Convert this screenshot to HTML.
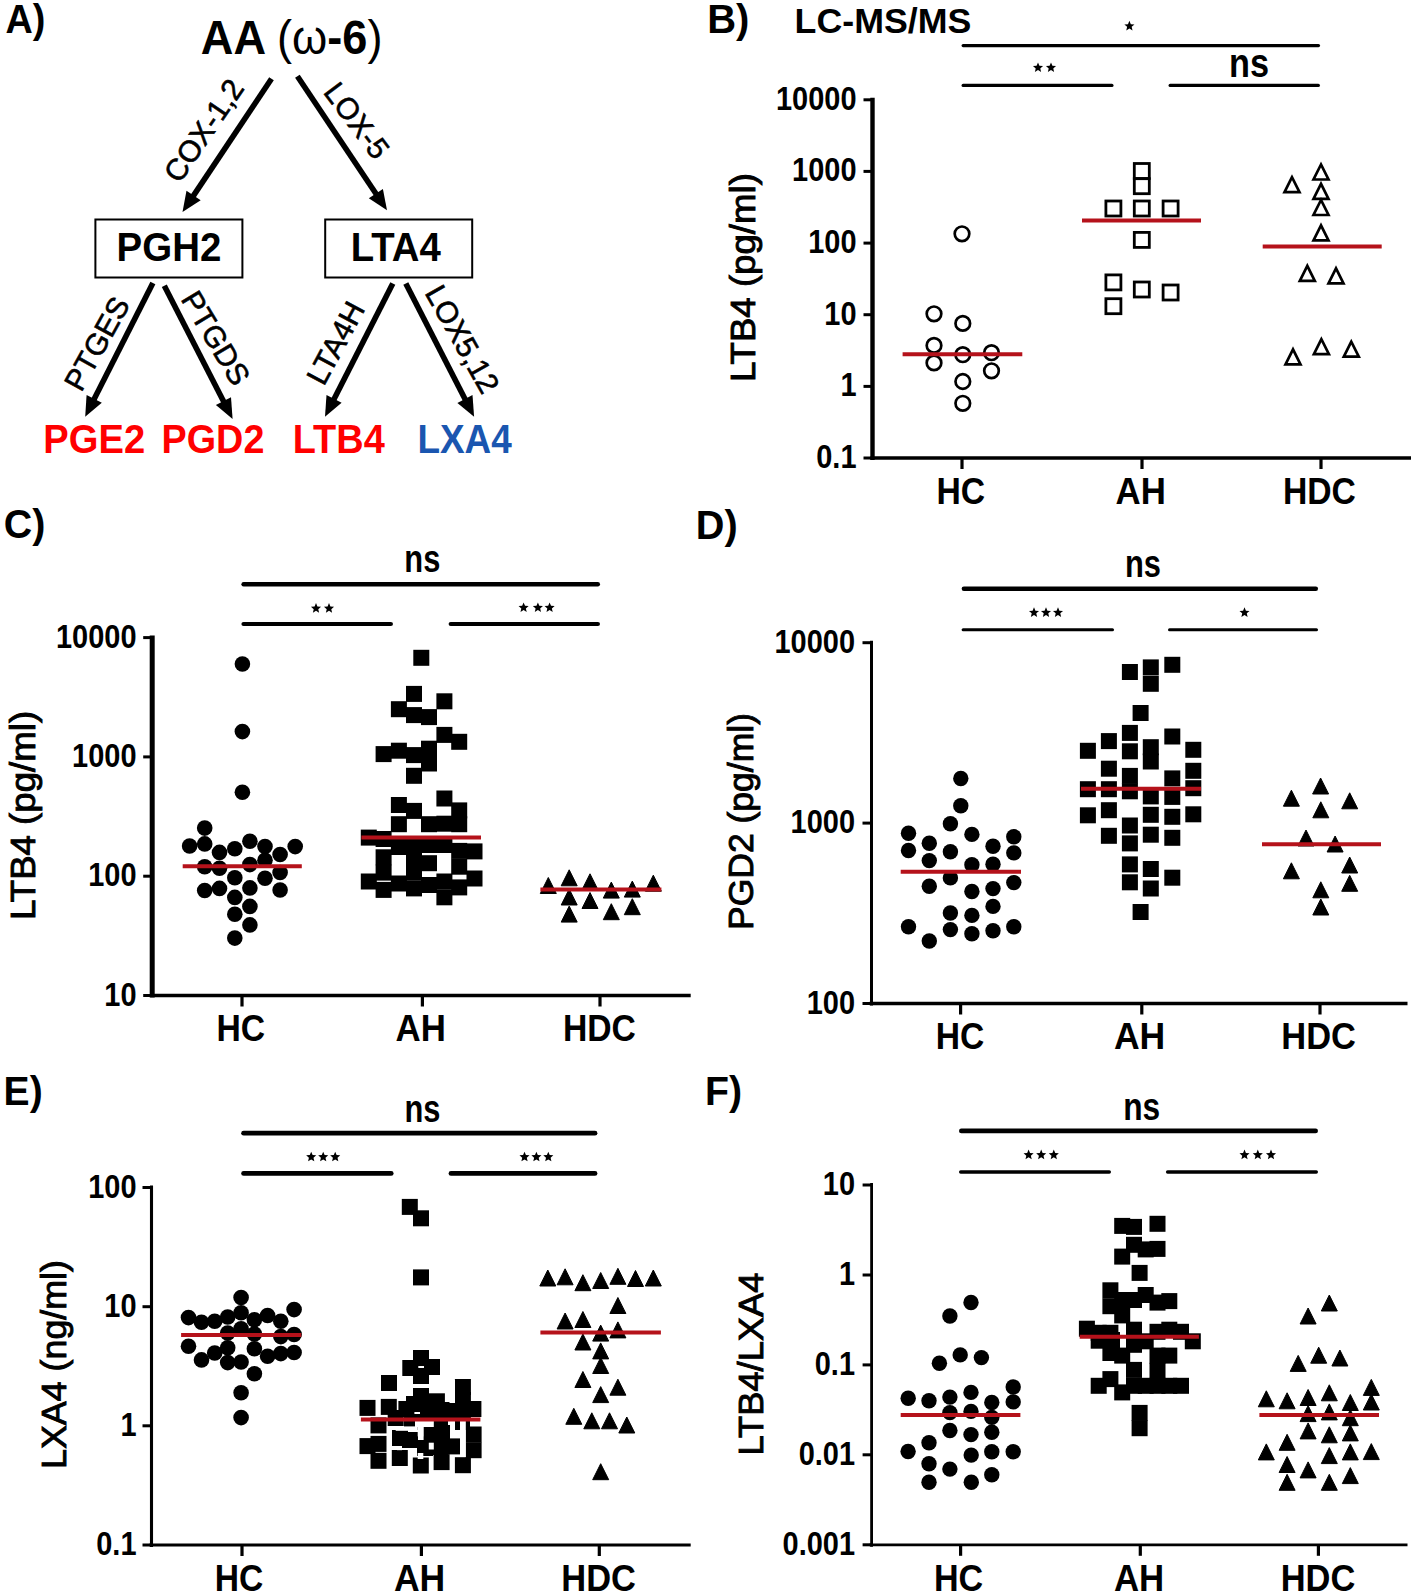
<!DOCTYPE html>
<html><head><meta charset="utf-8"><style>html,body{margin:0;padding:0;background:#fff;overflow:hidden}svg{display:block}</style></head>
<body><svg width="1417" height="1596" viewBox="0 0 1417 1596" font-family='"Liberation Sans", sans-serif'><rect width="100%" height="100%" fill="#fff"/><text transform="translate(5.56 32.50) scale(0.9205 1)" x="0" y="0" font-size="41.01" font-weight="bold" fill="#000">A)</text>
<text transform="translate(200.8 53.7) scale(0.957 1)" x="0" y="0" font-size="47.2" font-weight="bold" fill="#000">AA <tspan font-weight="normal">(ω</tspan>-6<tspan font-weight="normal">)</tspan></text>
<line x1="271.5" y1="78.8" x2="192.5" y2="197.1" stroke="#000" stroke-width="5.6" stroke-linecap="butt"/>
<polygon points="182.5,212.1 186.5,190.7 200.7,200.2" fill="#000"/>
<line x1="297.4" y1="76.3" x2="377.0" y2="195.2" stroke="#000" stroke-width="5.6" stroke-linecap="butt"/>
<polygon points="387.0,210.2 368.8,198.3 382.9,188.9" fill="#000"/>
<text transform="translate(203.4 130.2) rotate(-55.7)" x="0" y="10.8" font-size="30" text-anchor="middle" font-weight="normal" fill="#000" stroke="#000" stroke-width="0.6">COX-1,2</text>
<text transform="translate(357.2 120.3) rotate(53)" x="0" y="10.8" font-size="30" text-anchor="middle" font-weight="normal" fill="#000" stroke="#000" stroke-width="0.6">LOX-5</text>
<rect x="95.4" y="219.5" width="147" height="58" fill="none" stroke="#000" stroke-width="2"/>
<rect x="325.2" y="219.5" width="147" height="58" fill="none" stroke="#000" stroke-width="2"/>
<text transform="translate(116.62 260.80) scale(0.9409 1)" x="0" y="0" font-size="40.87" font-weight="bold" fill="#000">PGH2</text>
<text transform="translate(350.73 260.80) scale(0.9356 1)" x="0" y="0" font-size="40.99" font-weight="bold" fill="#000">LTA4</text>
<line x1="152.9" y1="283.0" x2="93.3" y2="400.7" stroke="#000" stroke-width="5.6" stroke-linecap="butt"/>
<polygon points="85.2,416.8 86.6,395.1 101.8,402.8" fill="#000"/>
<line x1="164.3" y1="285.8" x2="224.4" y2="403.0" stroke="#000" stroke-width="5.6" stroke-linecap="butt"/>
<polygon points="232.6,419.0 215.9,405.1 231.0,397.3" fill="#000"/>
<line x1="392.8" y1="283.5" x2="333.2" y2="400.8" stroke="#000" stroke-width="5.6" stroke-linecap="butt"/>
<polygon points="325.0,416.8 326.5,395.1 341.6,402.8" fill="#000"/>
<line x1="405.8" y1="283.5" x2="465.9" y2="400.8" stroke="#000" stroke-width="5.6" stroke-linecap="butt"/>
<polygon points="474.1,416.8 457.4,402.9 472.5,395.1" fill="#000"/>
<text transform="translate(96.5 343.4) rotate(-61)" x="0" y="10.8" font-size="30" text-anchor="middle" font-weight="normal" fill="#000" stroke="#000" stroke-width="0.6">PTGES</text>
<text transform="translate(216.2 337.8) rotate(59)" x="0" y="10.8" font-size="30" text-anchor="middle" font-weight="normal" fill="#000" stroke="#000" stroke-width="0.6">PTGDS</text>
<text transform="translate(335.2 342.8) rotate(-61.8)" x="0" y="10.8" font-size="30" text-anchor="middle" font-weight="normal" fill="#000" stroke="#000" stroke-width="0.6">LTA4H</text>
<text transform="translate(462.8 338.9) rotate(60.5)" x="0" y="10.8" font-size="30" text-anchor="middle" font-weight="normal" fill="#000" stroke="#000" stroke-width="0.6">LOX5,12</text>
<text transform="translate(43.34 452.80) scale(0.9435 1)" x="0" y="0" font-size="40.43" font-weight="bold" fill="#ff0000">PGE2</text>
<text transform="translate(161.57 452.80) scale(0.9340 1)" x="0" y="0" font-size="40.43" font-weight="bold" fill="#ff0000">PGD2</text>
<text transform="translate(292.76 452.80) scale(0.9355 1)" x="0" y="0" font-size="40.55" font-weight="bold" fill="#ff0000">LTB4</text>
<text transform="translate(417.43 452.80) scale(0.9103 1)" x="0" y="0" font-size="40.55" font-weight="bold" fill="#1a56b0">LXA4</text>
<line x1="872.5" y1="97.8" x2="872.5" y2="460.0" stroke="#000" stroke-width="4.4" stroke-linecap="butt"/>
<line x1="870.5" y1="458.0" x2="1411.0" y2="458.0" stroke="#000" stroke-width="3.4" stroke-linecap="butt"/>
<line x1="863.5" y1="99.8" x2="872.5" y2="99.8" stroke="#000" stroke-width="3" stroke-linecap="butt"/>
<text x="856.5" y="109.8" font-size="34" text-anchor="end" font-weight="bold" fill="#000" textLength="80.5" lengthAdjust="spacingAndGlyphs">10000</text>
<line x1="863.5" y1="171.4" x2="872.5" y2="171.4" stroke="#000" stroke-width="3" stroke-linecap="butt"/>
<text x="856.5" y="181.4" font-size="34" text-anchor="end" font-weight="bold" fill="#000" textLength="64.4" lengthAdjust="spacingAndGlyphs">1000</text>
<line x1="863.5" y1="243.1" x2="872.5" y2="243.1" stroke="#000" stroke-width="3" stroke-linecap="butt"/>
<text x="856.5" y="253.1" font-size="34" text-anchor="end" font-weight="bold" fill="#000" textLength="48.300000000000004" lengthAdjust="spacingAndGlyphs">100</text>
<line x1="863.5" y1="314.7" x2="872.5" y2="314.7" stroke="#000" stroke-width="3" stroke-linecap="butt"/>
<text x="856.5" y="324.7" font-size="34" text-anchor="end" font-weight="bold" fill="#000" textLength="32.2" lengthAdjust="spacingAndGlyphs">10</text>
<line x1="863.5" y1="386.4" x2="872.5" y2="386.4" stroke="#000" stroke-width="3" stroke-linecap="butt"/>
<text x="856.5" y="396.4" font-size="34" text-anchor="end" font-weight="bold" fill="#000" textLength="16.1" lengthAdjust="spacingAndGlyphs">1</text>
<line x1="863.5" y1="458.0" x2="872.5" y2="458.0" stroke="#000" stroke-width="3" stroke-linecap="butt"/>
<text x="856.5" y="468.0" font-size="34" text-anchor="end" font-weight="bold" fill="#000" textLength="40.25" lengthAdjust="spacingAndGlyphs">0.1</text>
<line x1="962.0" y1="458.0" x2="962.0" y2="469.0" stroke="#000" stroke-width="3.2" stroke-linecap="butt"/>
<text transform="translate(936.54 504.10) scale(0.9109 1)" x="0" y="0" font-size="37.00" font-weight="bold" fill="#000">HC</text>
<line x1="1142.0" y1="458.0" x2="1142.0" y2="469.0" stroke="#000" stroke-width="3.2" stroke-linecap="butt"/>
<text transform="translate(1115.53 504.10) scale(0.9415 1)" x="0" y="0" font-size="37.00" font-weight="bold" fill="#000">AH</text>
<line x1="1321.0" y1="458.0" x2="1321.0" y2="469.0" stroke="#000" stroke-width="3.2" stroke-linecap="butt"/>
<text transform="translate(1282.94 504.10) scale(0.9105 1)" x="0" y="0" font-size="37.00" font-weight="bold" fill="#000">HDC</text>
<text x="755.3" y="277.6" font-size="35" text-anchor="middle" font-weight="normal" fill="#000" stroke="#000" stroke-width="0.9" textLength="209" lengthAdjust="spacingAndGlyphs" transform="rotate(-90 755.3 277.6)">LTB4 (pg/ml)</text>
<text transform="translate(707.22 32.70) scale(0.9924 1)" x="0" y="0" font-size="40.29" font-weight="bold" fill="#000">B)</text>
<line x1="963.1" y1="45.6" x2="1318.5" y2="45.6" stroke="#000" stroke-width="3.1" stroke-linecap="round"/>
<line x1="963.2" y1="85.4" x2="1111.9" y2="85.4" stroke="#000" stroke-width="3.3" stroke-linecap="round"/>
<line x1="1170.2" y1="85.4" x2="1318.3" y2="85.4" stroke="#000" stroke-width="3.3" stroke-linecap="round"/>
<polygon points="1129.40,20.80 1130.81,24.16 1134.44,24.46 1131.68,26.84 1132.52,30.39 1129.40,28.50 1126.28,30.39 1127.12,26.84 1124.36,24.46 1127.99,24.16" fill="#000"/>
<polygon points="1038.00,62.40 1039.41,65.76 1043.04,66.06 1040.28,68.44 1041.12,71.99 1038.00,70.10 1034.88,71.99 1035.72,68.44 1032.96,66.06 1036.59,65.76" fill="#000"/>
<polygon points="1051.00,62.40 1052.41,65.76 1056.04,66.06 1053.28,68.44 1054.12,71.99 1051.00,70.10 1047.88,71.99 1048.72,68.44 1045.96,66.06 1049.59,65.76" fill="#000"/>
<text x="1249.0" y="77.0" font-size="40" text-anchor="middle" font-weight="bold" fill="#000" textLength="40" lengthAdjust="spacingAndGlyphs">ns</text>
<text transform="translate(794.60 32.80) scale(1.0271 1)" x="0" y="0" font-size="34.81" font-weight="bold" fill="#000">LC-MS/MS</text>
<circle cx="962.0" cy="233.8" r="7.3" fill="none" stroke="#000" stroke-width="2.7"/>
<circle cx="934.0" cy="313.8" r="7.3" fill="none" stroke="#000" stroke-width="2.7"/>
<circle cx="962.8" cy="323.4" r="7.3" fill="none" stroke="#000" stroke-width="2.7"/>
<circle cx="934.0" cy="345.4" r="7.3" fill="none" stroke="#000" stroke-width="2.7"/>
<circle cx="962.8" cy="354.7" r="7.3" fill="none" stroke="#000" stroke-width="2.7"/>
<circle cx="991.5" cy="352.7" r="7.3" fill="none" stroke="#000" stroke-width="2.7"/>
<circle cx="934.0" cy="362.9" r="7.3" fill="none" stroke="#000" stroke-width="2.7"/>
<circle cx="991.5" cy="370.8" r="7.3" fill="none" stroke="#000" stroke-width="2.7"/>
<circle cx="962.8" cy="381.5" r="7.3" fill="none" stroke="#000" stroke-width="2.7"/>
<circle cx="962.8" cy="403.3" r="7.3" fill="none" stroke="#000" stroke-width="2.7"/>
<rect x="1134.3" y="163.5" width="15" height="15" fill="none" stroke="#000" stroke-width="2.8"/>
<rect x="1134.3" y="178.7" width="15" height="15" fill="none" stroke="#000" stroke-width="2.8"/>
<rect x="1105.9" y="201.0" width="15" height="15" fill="none" stroke="#000" stroke-width="2.8"/>
<rect x="1134.3" y="201.0" width="15" height="15" fill="none" stroke="#000" stroke-width="2.8"/>
<rect x="1163.1" y="201.0" width="15" height="15" fill="none" stroke="#000" stroke-width="2.8"/>
<rect x="1134.3" y="232.4" width="15" height="15" fill="none" stroke="#000" stroke-width="2.8"/>
<rect x="1105.9" y="274.9" width="15" height="15" fill="none" stroke="#000" stroke-width="2.8"/>
<rect x="1134.3" y="282.0" width="15" height="15" fill="none" stroke="#000" stroke-width="2.8"/>
<rect x="1163.1" y="285.0" width="15" height="15" fill="none" stroke="#000" stroke-width="2.8"/>
<rect x="1105.9" y="298.7" width="15" height="15" fill="none" stroke="#000" stroke-width="2.8"/>
<polygon points="1321.0,164.5 1313.5,179.5 1328.5,179.5" fill="none" stroke="#000" stroke-width="2.7" stroke-linejoin="miter"/>
<polygon points="1292.0,177.2 1284.5,192.2 1299.5,192.2" fill="none" stroke="#000" stroke-width="2.7" stroke-linejoin="miter"/>
<polygon points="1321.0,183.8 1313.5,198.8 1328.5,198.8" fill="none" stroke="#000" stroke-width="2.7" stroke-linejoin="miter"/>
<polygon points="1321.0,200.0 1313.5,215.0 1328.5,215.0" fill="none" stroke="#000" stroke-width="2.7" stroke-linejoin="miter"/>
<polygon points="1321.0,225.3 1313.5,240.3 1328.5,240.3" fill="none" stroke="#000" stroke-width="2.7" stroke-linejoin="miter"/>
<polygon points="1307.3,265.8 1299.8,280.8 1314.8,280.8" fill="none" stroke="#000" stroke-width="2.7" stroke-linejoin="miter"/>
<polygon points="1336.0,268.3 1328.5,283.3 1343.5,283.3" fill="none" stroke="#000" stroke-width="2.7" stroke-linejoin="miter"/>
<polygon points="1293.0,349.3 1285.5,364.3 1300.5,364.3" fill="none" stroke="#000" stroke-width="2.7" stroke-linejoin="miter"/>
<polygon points="1321.4,339.2 1313.9,354.2 1328.9,354.2" fill="none" stroke="#000" stroke-width="2.7" stroke-linejoin="miter"/>
<polygon points="1351.3,341.7 1343.8,356.7 1358.8,356.7" fill="none" stroke="#000" stroke-width="2.7" stroke-linejoin="miter"/>
<line x1="152.2" y1="635.6" x2="152.2" y2="997.5" stroke="#000" stroke-width="5" stroke-linecap="butt"/>
<line x1="150.2" y1="995.5" x2="690.7" y2="995.5" stroke="#000" stroke-width="3.4" stroke-linecap="butt"/>
<line x1="143.2" y1="637.6" x2="152.2" y2="637.6" stroke="#000" stroke-width="3" stroke-linecap="butt"/>
<text x="136.5" y="647.6" font-size="34" text-anchor="end" font-weight="bold" fill="#000" textLength="80.5" lengthAdjust="spacingAndGlyphs">10000</text>
<line x1="143.2" y1="756.9" x2="152.2" y2="756.9" stroke="#000" stroke-width="3" stroke-linecap="butt"/>
<text x="136.5" y="766.9" font-size="34" text-anchor="end" font-weight="bold" fill="#000" textLength="64.4" lengthAdjust="spacingAndGlyphs">1000</text>
<line x1="143.2" y1="876.2" x2="152.2" y2="876.2" stroke="#000" stroke-width="3" stroke-linecap="butt"/>
<text x="136.5" y="886.2" font-size="34" text-anchor="end" font-weight="bold" fill="#000" textLength="48.300000000000004" lengthAdjust="spacingAndGlyphs">100</text>
<line x1="143.2" y1="995.5" x2="152.2" y2="995.5" stroke="#000" stroke-width="3" stroke-linecap="butt"/>
<text x="136.5" y="1005.5" font-size="34" text-anchor="end" font-weight="bold" fill="#000" textLength="32.2" lengthAdjust="spacingAndGlyphs">10</text>
<line x1="242.0" y1="995.5" x2="242.0" y2="1006.5" stroke="#000" stroke-width="3.2" stroke-linecap="butt"/>
<text transform="translate(216.54 1041.40) scale(0.9109 1)" x="0" y="0" font-size="37.00" font-weight="bold" fill="#000">HC</text>
<line x1="422.4" y1="995.5" x2="422.4" y2="1006.5" stroke="#000" stroke-width="3.2" stroke-linecap="butt"/>
<text transform="translate(395.53 1041.40) scale(0.9415 1)" x="0" y="0" font-size="37.00" font-weight="bold" fill="#000">AH</text>
<line x1="600.0" y1="995.5" x2="600.0" y2="1006.5" stroke="#000" stroke-width="3.2" stroke-linecap="butt"/>
<text transform="translate(562.94 1041.40) scale(0.9105 1)" x="0" y="0" font-size="37.00" font-weight="bold" fill="#000">HDC</text>
<text x="35.2" y="815.4" font-size="35" text-anchor="middle" font-weight="normal" fill="#000" stroke="#000" stroke-width="0.9" textLength="209" lengthAdjust="spacingAndGlyphs" transform="rotate(-90 35.2 815.4)">LTB4 (pg/ml)</text>
<text transform="translate(3.78 537.50) scale(0.9785 1)" x="0" y="0" font-size="40.29" font-weight="bold" fill="#000">C)</text>
<line x1="243.6" y1="584.3" x2="597.8" y2="584.3" stroke="#000" stroke-width="4.4" stroke-linecap="round"/>
<line x1="243.5" y1="624.0" x2="390.9" y2="624.0" stroke="#000" stroke-width="4.2" stroke-linecap="round"/>
<line x1="450.7" y1="624.0" x2="597.9" y2="624.0" stroke="#000" stroke-width="4.2" stroke-linecap="round"/>
<polygon points="316.00,603.10 317.41,606.46 321.04,606.76 318.28,609.14 319.12,612.69 316.00,610.80 312.88,612.69 313.72,609.14 310.96,606.76 314.59,606.46" fill="#000"/>
<polygon points="329.00,603.10 330.41,606.46 334.04,606.76 331.28,609.14 332.12,612.69 329.00,610.80 325.88,612.69 326.72,609.14 323.96,606.76 327.59,606.46" fill="#000"/>
<polygon points="523.60,602.40 525.01,605.76 528.64,606.06 525.88,608.44 526.72,611.99 523.60,610.10 520.48,611.99 521.32,608.44 518.56,606.06 522.19,605.76" fill="#000"/>
<polygon points="537.90,602.40 539.31,605.76 542.94,606.06 540.18,608.44 541.02,611.99 537.90,610.10 534.78,611.99 535.62,608.44 532.86,606.06 536.49,605.76" fill="#000"/>
<polygon points="549.60,602.40 551.01,605.76 554.64,606.06 551.88,608.44 552.72,611.99 549.60,610.10 546.48,611.99 547.32,608.44 544.56,606.06 548.19,605.76" fill="#000"/>
<text x="422.3" y="572.2" font-size="38" text-anchor="middle" font-weight="bold" fill="#000" textLength="36" lengthAdjust="spacingAndGlyphs">ns</text>
<line x1="871.5" y1="640.7" x2="871.5" y2="1005.5" stroke="#000" stroke-width="3" stroke-linecap="butt"/>
<line x1="869.5" y1="1003.5" x2="1407.5" y2="1003.5" stroke="#000" stroke-width="3.4" stroke-linecap="butt"/>
<line x1="862.5" y1="642.7" x2="871.5" y2="642.7" stroke="#000" stroke-width="3" stroke-linecap="butt"/>
<text x="855.0" y="652.7" font-size="34" text-anchor="end" font-weight="bold" fill="#000" textLength="80.5" lengthAdjust="spacingAndGlyphs">10000</text>
<line x1="862.5" y1="823.1" x2="871.5" y2="823.1" stroke="#000" stroke-width="3" stroke-linecap="butt"/>
<text x="855.0" y="833.1" font-size="34" text-anchor="end" font-weight="bold" fill="#000" textLength="64.4" lengthAdjust="spacingAndGlyphs">1000</text>
<line x1="862.5" y1="1003.5" x2="871.5" y2="1003.5" stroke="#000" stroke-width="3" stroke-linecap="butt"/>
<text x="855.0" y="1013.5" font-size="34" text-anchor="end" font-weight="bold" fill="#000" textLength="48.300000000000004" lengthAdjust="spacingAndGlyphs">100</text>
<line x1="960.6" y1="1003.5" x2="960.6" y2="1014.5" stroke="#000" stroke-width="3.2" stroke-linecap="butt"/>
<text transform="translate(935.65 1049.10) scale(0.9089 1)" x="0" y="0" font-size="37.00" font-weight="bold" fill="#000">HC</text>
<line x1="1141.8" y1="1003.5" x2="1141.8" y2="1014.5" stroke="#000" stroke-width="3.2" stroke-linecap="butt"/>
<text transform="translate(1113.91 1049.10) scale(0.9615 1)" x="0" y="0" font-size="37.00" font-weight="bold" fill="#000">AH</text>
<line x1="1320.0" y1="1003.5" x2="1320.0" y2="1014.5" stroke="#000" stroke-width="3.2" stroke-linecap="butt"/>
<text transform="translate(1281.29 1049.10) scale(0.9313 1)" x="0" y="0" font-size="37.00" font-weight="bold" fill="#000">HDC</text>
<text x="753.4" y="821.5" font-size="35" text-anchor="middle" font-weight="normal" fill="#000" stroke="#000" stroke-width="0.9" textLength="217" lengthAdjust="spacingAndGlyphs" transform="rotate(-90 753.4 821.5)">PGD2 (pg/ml)</text>
<text transform="translate(695.84 539.40) scale(0.9844 1)" x="0" y="0" font-size="40.29" font-weight="bold" fill="#000">D)</text>
<line x1="963.9" y1="588.7" x2="1315.8" y2="588.7" stroke="#000" stroke-width="4.5" stroke-linecap="round"/>
<line x1="963.1" y1="629.8" x2="1112.5" y2="629.8" stroke="#000" stroke-width="3" stroke-linecap="round"/>
<line x1="1169.5" y1="629.8" x2="1316.5" y2="629.8" stroke="#000" stroke-width="3" stroke-linecap="round"/>
<polygon points="1034.00,607.30 1035.41,610.66 1039.04,610.96 1036.28,613.34 1037.12,616.89 1034.00,615.00 1030.88,616.89 1031.72,613.34 1028.96,610.96 1032.59,610.66" fill="#000"/>
<polygon points="1046.00,607.30 1047.41,610.66 1051.04,610.96 1048.28,613.34 1049.12,616.89 1046.00,615.00 1042.88,616.89 1043.72,613.34 1040.96,610.96 1044.59,610.66" fill="#000"/>
<polygon points="1058.00,607.30 1059.41,610.66 1063.04,610.96 1060.28,613.34 1061.12,616.89 1058.00,615.00 1054.88,616.89 1055.72,613.34 1052.96,610.96 1056.59,610.66" fill="#000"/>
<polygon points="1244.50,607.30 1245.91,610.66 1249.54,610.96 1246.78,613.34 1247.62,616.89 1244.50,615.00 1241.38,616.89 1242.22,613.34 1239.46,610.96 1243.09,610.66" fill="#000"/>
<text x="1143.0" y="577.2" font-size="38" text-anchor="middle" font-weight="bold" fill="#000" textLength="36" lengthAdjust="spacingAndGlyphs">ns</text>
<line x1="151.5" y1="1185.5" x2="151.5" y2="1547.0" stroke="#000" stroke-width="3.1" stroke-linecap="butt"/>
<line x1="149.5" y1="1545.0" x2="690.7" y2="1545.0" stroke="#000" stroke-width="3.1" stroke-linecap="butt"/>
<line x1="142.5" y1="1187.5" x2="151.5" y2="1187.5" stroke="#000" stroke-width="3" stroke-linecap="butt"/>
<text x="136.5" y="1197.5" font-size="34" text-anchor="end" font-weight="bold" fill="#000" textLength="48.300000000000004" lengthAdjust="spacingAndGlyphs">100</text>
<line x1="142.5" y1="1306.7" x2="151.5" y2="1306.7" stroke="#000" stroke-width="3" stroke-linecap="butt"/>
<text x="136.5" y="1316.7" font-size="34" text-anchor="end" font-weight="bold" fill="#000" textLength="32.2" lengthAdjust="spacingAndGlyphs">10</text>
<line x1="142.5" y1="1425.8" x2="151.5" y2="1425.8" stroke="#000" stroke-width="3" stroke-linecap="butt"/>
<text x="136.5" y="1435.8" font-size="34" text-anchor="end" font-weight="bold" fill="#000" textLength="16.1" lengthAdjust="spacingAndGlyphs">1</text>
<line x1="142.5" y1="1545.0" x2="151.5" y2="1545.0" stroke="#000" stroke-width="3" stroke-linecap="butt"/>
<text x="136.5" y="1555.0" font-size="34" text-anchor="end" font-weight="bold" fill="#000" textLength="40.25" lengthAdjust="spacingAndGlyphs">0.1</text>
<line x1="242.0" y1="1545.0" x2="242.0" y2="1556.0" stroke="#000" stroke-width="3.2" stroke-linecap="butt"/>
<text transform="translate(214.65 1590.70) scale(0.9089 1)" x="0" y="0" font-size="37.00" font-weight="bold" fill="#000">HC</text>
<line x1="421.4" y1="1545.0" x2="421.4" y2="1556.0" stroke="#000" stroke-width="3.2" stroke-linecap="butt"/>
<text transform="translate(393.91 1590.70) scale(0.9615 1)" x="0" y="0" font-size="37.00" font-weight="bold" fill="#000">AH</text>
<line x1="599.3" y1="1545.0" x2="599.3" y2="1556.0" stroke="#000" stroke-width="3.2" stroke-linecap="butt"/>
<text transform="translate(561.29 1590.70) scale(0.9313 1)" x="0" y="0" font-size="37.00" font-weight="bold" fill="#000">HDC</text>
<text x="66" y="1364.5" font-size="35" text-anchor="middle" font-weight="normal" fill="#000" stroke="#000" stroke-width="0.9" textLength="209" lengthAdjust="spacingAndGlyphs" transform="rotate(-90 66 1364.5)">LXA4 (ng/ml)</text>
<text transform="translate(3.58 1105.00) scale(0.9699 1)" x="0" y="0" font-size="40.29" font-weight="bold" fill="#000">E)</text>
<line x1="243.6" y1="1133.2" x2="595.0" y2="1133.2" stroke="#000" stroke-width="4.8" stroke-linecap="round"/>
<line x1="243.6" y1="1173.4" x2="391.2" y2="1173.4" stroke="#000" stroke-width="4.8" stroke-linecap="round"/>
<line x1="451.0" y1="1173.4" x2="595.0" y2="1173.4" stroke="#000" stroke-width="4.8" stroke-linecap="round"/>
<polygon points="311.20,1151.70 312.61,1155.06 316.24,1155.36 313.48,1157.74 314.32,1161.29 311.20,1159.40 308.08,1161.29 308.92,1157.74 306.16,1155.36 309.79,1155.06" fill="#000"/>
<polygon points="323.20,1151.70 324.61,1155.06 328.24,1155.36 325.48,1157.74 326.32,1161.29 323.20,1159.40 320.08,1161.29 320.92,1157.74 318.16,1155.36 321.79,1155.06" fill="#000"/>
<polygon points="335.20,1151.70 336.61,1155.06 340.24,1155.36 337.48,1157.74 338.32,1161.29 335.20,1159.40 332.08,1161.29 332.92,1157.74 330.16,1155.36 333.79,1155.06" fill="#000"/>
<polygon points="524.50,1151.70 525.91,1155.06 529.54,1155.36 526.78,1157.74 527.62,1161.29 524.50,1159.40 521.38,1161.29 522.22,1157.74 519.46,1155.36 523.09,1155.06" fill="#000"/>
<polygon points="536.40,1151.70 537.81,1155.06 541.44,1155.36 538.68,1157.74 539.52,1161.29 536.40,1159.40 533.28,1161.29 534.12,1157.74 531.36,1155.36 534.99,1155.06" fill="#000"/>
<polygon points="548.30,1151.70 549.71,1155.06 553.34,1155.36 550.58,1157.74 551.42,1161.29 548.30,1159.40 545.18,1161.29 546.02,1157.74 543.26,1155.36 546.89,1155.06" fill="#000"/>
<text x="422.4" y="1122.2" font-size="38" text-anchor="middle" font-weight="bold" fill="#000" textLength="36" lengthAdjust="spacingAndGlyphs">ns</text>
<line x1="871.6" y1="1183.0" x2="871.6" y2="1546.8" stroke="#000" stroke-width="2.8" stroke-linecap="butt"/>
<line x1="869.6" y1="1544.8" x2="1407.5" y2="1544.8" stroke="#000" stroke-width="2.8" stroke-linecap="butt"/>
<line x1="862.6" y1="1185.0" x2="871.6" y2="1185.0" stroke="#000" stroke-width="3" stroke-linecap="butt"/>
<text x="855.0" y="1195.0" font-size="34" text-anchor="end" font-weight="bold" fill="#000" textLength="32.2" lengthAdjust="spacingAndGlyphs">10</text>
<line x1="862.6" y1="1275.0" x2="871.6" y2="1275.0" stroke="#000" stroke-width="3" stroke-linecap="butt"/>
<text x="855.0" y="1285.0" font-size="34" text-anchor="end" font-weight="bold" fill="#000" textLength="16.1" lengthAdjust="spacingAndGlyphs">1</text>
<line x1="862.6" y1="1364.9" x2="871.6" y2="1364.9" stroke="#000" stroke-width="3" stroke-linecap="butt"/>
<text x="855.0" y="1374.9" font-size="34" text-anchor="end" font-weight="bold" fill="#000" textLength="40.25" lengthAdjust="spacingAndGlyphs">0.1</text>
<line x1="862.6" y1="1454.8" x2="871.6" y2="1454.8" stroke="#000" stroke-width="3" stroke-linecap="butt"/>
<text x="855.0" y="1464.8" font-size="34" text-anchor="end" font-weight="bold" fill="#000" textLength="56.35000000000001" lengthAdjust="spacingAndGlyphs">0.01</text>
<line x1="862.6" y1="1544.8" x2="871.6" y2="1544.8" stroke="#000" stroke-width="3" stroke-linecap="butt"/>
<text x="855.0" y="1554.8" font-size="34" text-anchor="end" font-weight="bold" fill="#000" textLength="72.45" lengthAdjust="spacingAndGlyphs">0.001</text>
<line x1="960.6" y1="1544.8" x2="960.6" y2="1555.8" stroke="#000" stroke-width="3.2" stroke-linecap="butt"/>
<text transform="translate(933.91 1590.70) scale(0.9229 1)" x="0" y="0" font-size="37.00" font-weight="bold" fill="#000">HC</text>
<line x1="1140.3" y1="1544.8" x2="1140.3" y2="1555.8" stroke="#000" stroke-width="3.2" stroke-linecap="butt"/>
<text transform="translate(1113.93 1590.70) scale(0.9415 1)" x="0" y="0" font-size="37.00" font-weight="bold" fill="#000">AH</text>
<line x1="1318.4" y1="1544.8" x2="1318.4" y2="1555.8" stroke="#000" stroke-width="3.2" stroke-linecap="butt"/>
<text transform="translate(1280.69 1590.70) scale(0.9313 1)" x="0" y="0" font-size="37.00" font-weight="bold" fill="#000">HDC</text>
<text x="762.5" y="1364" font-size="35" text-anchor="middle" font-weight="normal" fill="#000" stroke="#000" stroke-width="0.9" textLength="183" lengthAdjust="spacingAndGlyphs" transform="rotate(-90 762.5 1364)">LTB4/LXA4</text>
<text transform="translate(705.07 1105.00) scale(0.9755 1)" x="0" y="0" font-size="40.29" font-weight="bold" fill="#000">F)</text>
<line x1="961.4" y1="1130.9" x2="1315.6" y2="1130.9" stroke="#000" stroke-width="4.8" stroke-linecap="round"/>
<line x1="960.7" y1="1172.0" x2="1109.3" y2="1172.0" stroke="#000" stroke-width="3.4" stroke-linecap="round"/>
<line x1="1167.6" y1="1172.0" x2="1316.3" y2="1172.0" stroke="#000" stroke-width="3.4" stroke-linecap="round"/>
<polygon points="1028.60,1149.60 1030.01,1152.96 1033.64,1153.26 1030.88,1155.64 1031.72,1159.19 1028.60,1157.30 1025.48,1159.19 1026.32,1155.64 1023.56,1153.26 1027.19,1152.96" fill="#000"/>
<polygon points="1041.20,1149.60 1042.61,1152.96 1046.24,1153.26 1043.48,1155.64 1044.32,1159.19 1041.20,1157.30 1038.08,1159.19 1038.92,1155.64 1036.16,1153.26 1039.79,1152.96" fill="#000"/>
<polygon points="1053.80,1149.60 1055.21,1152.96 1058.84,1153.26 1056.08,1155.64 1056.92,1159.19 1053.80,1157.30 1050.68,1159.19 1051.52,1155.64 1048.76,1153.26 1052.39,1152.96" fill="#000"/>
<polygon points="1244.50,1149.60 1245.91,1152.96 1249.54,1153.26 1246.78,1155.64 1247.62,1159.19 1244.50,1157.30 1241.38,1159.19 1242.22,1155.64 1239.46,1153.26 1243.09,1152.96" fill="#000"/>
<polygon points="1257.80,1149.60 1259.21,1152.96 1262.84,1153.26 1260.08,1155.64 1260.92,1159.19 1257.80,1157.30 1254.68,1159.19 1255.52,1155.64 1252.76,1153.26 1256.39,1152.96" fill="#000"/>
<polygon points="1271.00,1149.60 1272.41,1152.96 1276.04,1153.26 1273.28,1155.64 1274.12,1159.19 1271.00,1157.30 1267.88,1159.19 1268.72,1155.64 1265.96,1153.26 1269.59,1152.96" fill="#000"/>
<text x="1141.7" y="1119.5" font-size="38" text-anchor="middle" font-weight="bold" fill="#000" textLength="37" lengthAdjust="spacingAndGlyphs">ns</text>
<circle cx="242.4" cy="664.0" r="7.8" fill="#000"/>
<circle cx="242.4" cy="731.6" r="7.8" fill="#000"/>
<circle cx="242.4" cy="792.3" r="7.8" fill="#000"/>
<circle cx="204.7" cy="828.1" r="7.8" fill="#000"/>
<circle cx="189.6" cy="846.0" r="7.8" fill="#000"/>
<circle cx="204.7" cy="843.9" r="7.8" fill="#000"/>
<circle cx="219.5" cy="852.4" r="7.8" fill="#000"/>
<circle cx="234.8" cy="848.7" r="7.8" fill="#000"/>
<circle cx="249.9" cy="841.3" r="7.8" fill="#000"/>
<circle cx="265.0" cy="846.6" r="7.8" fill="#000"/>
<circle cx="280.1" cy="854.5" r="7.8" fill="#000"/>
<circle cx="295.2" cy="846.6" r="7.8" fill="#000"/>
<circle cx="204.7" cy="866.7" r="7.8" fill="#000"/>
<circle cx="219.5" cy="868.3" r="7.8" fill="#000"/>
<circle cx="249.9" cy="864.6" r="7.8" fill="#000"/>
<circle cx="265.0" cy="860.3" r="7.8" fill="#000"/>
<circle cx="280.1" cy="872.5" r="7.8" fill="#000"/>
<circle cx="234.8" cy="877.8" r="7.8" fill="#000"/>
<circle cx="265.0" cy="878.3" r="7.8" fill="#000"/>
<circle cx="204.7" cy="890.5" r="7.8" fill="#000"/>
<circle cx="219.5" cy="888.4" r="7.8" fill="#000"/>
<circle cx="249.9" cy="887.9" r="7.8" fill="#000"/>
<circle cx="280.1" cy="890.0" r="7.8" fill="#000"/>
<circle cx="234.8" cy="897.4" r="7.8" fill="#000"/>
<circle cx="249.9" cy="906.4" r="7.8" fill="#000"/>
<circle cx="234.8" cy="914.3" r="7.8" fill="#000"/>
<circle cx="249.9" cy="924.9" r="7.8" fill="#000"/>
<circle cx="234.8" cy="938.1" r="7.8" fill="#000"/>
<circle cx="960.8" cy="778.5" r="7.7" fill="#000"/>
<circle cx="960.8" cy="805.8" r="7.7" fill="#000"/>
<circle cx="950.4" cy="823.7" r="7.7" fill="#000"/>
<circle cx="908.5" cy="833.2" r="7.7" fill="#000"/>
<circle cx="929.3" cy="843.3" r="7.7" fill="#000"/>
<circle cx="971.9" cy="834.4" r="7.7" fill="#000"/>
<circle cx="1013.8" cy="836.8" r="7.7" fill="#000"/>
<circle cx="908.5" cy="850.5" r="7.7" fill="#000"/>
<circle cx="950.4" cy="851.7" r="7.7" fill="#000"/>
<circle cx="993.0" cy="846.3" r="7.7" fill="#000"/>
<circle cx="1013.8" cy="852.9" r="7.7" fill="#000"/>
<circle cx="929.3" cy="860.6" r="7.7" fill="#000"/>
<circle cx="971.9" cy="864.8" r="7.7" fill="#000"/>
<circle cx="993.0" cy="864.2" r="7.7" fill="#000"/>
<circle cx="950.4" cy="877.9" r="7.7" fill="#000"/>
<circle cx="929.3" cy="886.2" r="7.7" fill="#000"/>
<circle cx="1013.8" cy="882.6" r="7.7" fill="#000"/>
<circle cx="971.9" cy="891.5" r="7.7" fill="#000"/>
<circle cx="993.0" cy="888.6" r="7.7" fill="#000"/>
<circle cx="993.0" cy="906.4" r="7.7" fill="#000"/>
<circle cx="950.4" cy="913.0" r="7.7" fill="#000"/>
<circle cx="971.9" cy="915.4" r="7.7" fill="#000"/>
<circle cx="908.5" cy="926.7" r="7.7" fill="#000"/>
<circle cx="950.4" cy="929.6" r="7.7" fill="#000"/>
<circle cx="971.9" cy="933.8" r="7.7" fill="#000"/>
<circle cx="993.0" cy="930.8" r="7.7" fill="#000"/>
<circle cx="1013.8" cy="926.7" r="7.7" fill="#000"/>
<circle cx="929.3" cy="941.0" r="7.7" fill="#000"/>
<circle cx="241.1" cy="1297.5" r="7.8" fill="#000"/>
<circle cx="188.5" cy="1317.6" r="7.8" fill="#000"/>
<circle cx="201.5" cy="1322.3" r="7.8" fill="#000"/>
<circle cx="214.7" cy="1321.3" r="7.8" fill="#000"/>
<circle cx="227.7" cy="1317.0" r="7.8" fill="#000"/>
<circle cx="241.1" cy="1312.8" r="7.8" fill="#000"/>
<circle cx="254.4" cy="1319.7" r="7.8" fill="#000"/>
<circle cx="267.6" cy="1315.5" r="7.8" fill="#000"/>
<circle cx="280.8" cy="1321.3" r="7.8" fill="#000"/>
<circle cx="294.1" cy="1309.6" r="7.8" fill="#000"/>
<circle cx="227.7" cy="1333.0" r="7.8" fill="#000"/>
<circle cx="241.1" cy="1328.7" r="7.8" fill="#000"/>
<circle cx="254.4" cy="1334.0" r="7.8" fill="#000"/>
<circle cx="280.8" cy="1336.6" r="7.8" fill="#000"/>
<circle cx="294.1" cy="1334.5" r="7.8" fill="#000"/>
<circle cx="188.5" cy="1346.2" r="7.8" fill="#000"/>
<circle cx="214.7" cy="1353.0" r="7.8" fill="#000"/>
<circle cx="227.7" cy="1347.7" r="7.8" fill="#000"/>
<circle cx="254.4" cy="1348.8" r="7.8" fill="#000"/>
<circle cx="267.6" cy="1356.2" r="7.8" fill="#000"/>
<circle cx="280.8" cy="1353.6" r="7.8" fill="#000"/>
<circle cx="294.1" cy="1352.5" r="7.8" fill="#000"/>
<circle cx="201.5" cy="1359.9" r="7.8" fill="#000"/>
<circle cx="227.7" cy="1362.6" r="7.8" fill="#000"/>
<circle cx="241.1" cy="1362.0" r="7.8" fill="#000"/>
<circle cx="254.4" cy="1373.7" r="7.8" fill="#000"/>
<circle cx="241.1" cy="1392.7" r="7.8" fill="#000"/>
<circle cx="241.1" cy="1417.6" r="7.8" fill="#000"/>
<circle cx="971.0" cy="1302.5" r="7.7" fill="#000"/>
<circle cx="949.9" cy="1316.0" r="7.7" fill="#000"/>
<circle cx="939.4" cy="1363.2" r="7.7" fill="#000"/>
<circle cx="960.2" cy="1354.9" r="7.7" fill="#000"/>
<circle cx="981.4" cy="1357.6" r="7.7" fill="#000"/>
<circle cx="908.2" cy="1398.3" r="7.7" fill="#000"/>
<circle cx="929.0" cy="1400.7" r="7.7" fill="#000"/>
<circle cx="949.9" cy="1397.1" r="7.7" fill="#000"/>
<circle cx="971.0" cy="1392.4" r="7.7" fill="#000"/>
<circle cx="991.8" cy="1402.5" r="7.7" fill="#000"/>
<circle cx="1013.2" cy="1387.0" r="7.7" fill="#000"/>
<circle cx="1013.2" cy="1401.9" r="7.7" fill="#000"/>
<circle cx="949.9" cy="1412.6" r="7.7" fill="#000"/>
<circle cx="971.0" cy="1411.4" r="7.7" fill="#000"/>
<circle cx="991.8" cy="1417.4" r="7.7" fill="#000"/>
<circle cx="949.9" cy="1430.5" r="7.7" fill="#000"/>
<circle cx="971.0" cy="1434.6" r="7.7" fill="#000"/>
<circle cx="991.8" cy="1432.3" r="7.7" fill="#000"/>
<circle cx="929.0" cy="1442.8" r="7.7" fill="#000"/>
<circle cx="908.1" cy="1451.5" r="7.7" fill="#000"/>
<circle cx="971.2" cy="1455.1" r="7.7" fill="#000"/>
<circle cx="991.8" cy="1451.7" r="7.7" fill="#000"/>
<circle cx="1013.2" cy="1451.7" r="7.7" fill="#000"/>
<circle cx="929.0" cy="1463.8" r="7.7" fill="#000"/>
<circle cx="949.9" cy="1469.1" r="7.7" fill="#000"/>
<circle cx="991.8" cy="1474.7" r="7.7" fill="#000"/>
<circle cx="929.0" cy="1482.3" r="7.7" fill="#000"/>
<circle cx="971.3" cy="1482.3" r="7.7" fill="#000"/>
<rect x="413.3" y="649.8" width="16" height="16" fill="#000"/>
<rect x="406.0" y="685.9" width="16" height="16" fill="#000"/>
<rect x="436.4" y="693.3" width="16" height="16" fill="#000"/>
<rect x="390.9" y="701.2" width="16" height="16" fill="#000"/>
<rect x="406.0" y="707.1" width="16" height="16" fill="#000"/>
<rect x="421.0" y="709.1" width="16" height="16" fill="#000"/>
<rect x="436.4" y="726.9" width="16" height="16" fill="#000"/>
<rect x="451.2" y="733.8" width="16" height="16" fill="#000"/>
<rect x="375.6" y="746.1" width="16" height="16" fill="#000"/>
<rect x="390.9" y="742.7" width="16" height="16" fill="#000"/>
<rect x="406.0" y="747.1" width="16" height="16" fill="#000"/>
<rect x="421.0" y="740.7" width="16" height="16" fill="#000"/>
<rect x="421.0" y="755.5" width="16" height="16" fill="#000"/>
<rect x="406.0" y="767.8" width="16" height="16" fill="#000"/>
<rect x="436.4" y="790.5" width="16" height="16" fill="#000"/>
<rect x="390.9" y="797.0" width="16" height="16" fill="#000"/>
<rect x="406.0" y="802.9" width="16" height="16" fill="#000"/>
<rect x="451.2" y="802.4" width="16" height="16" fill="#000"/>
<rect x="390.9" y="816.2" width="16" height="16" fill="#000"/>
<rect x="421.0" y="816.2" width="16" height="16" fill="#000"/>
<rect x="436.4" y="815.7" width="16" height="16" fill="#000"/>
<rect x="451.2" y="816.2" width="16" height="16" fill="#000"/>
<rect x="360.8" y="829.6" width="16" height="16" fill="#000"/>
<rect x="375.6" y="831.0" width="16" height="16" fill="#000"/>
<rect x="390.9" y="839.0" width="16" height="16" fill="#000"/>
<rect x="406.0" y="839.0" width="16" height="16" fill="#000"/>
<rect x="421.0" y="837.0" width="16" height="16" fill="#000"/>
<rect x="436.4" y="837.0" width="16" height="16" fill="#000"/>
<rect x="466.5" y="843.4" width="16" height="16" fill="#000"/>
<rect x="451.2" y="842.9" width="16" height="16" fill="#000"/>
<rect x="375.6" y="849.3" width="16" height="16" fill="#000"/>
<rect x="406.0" y="851.8" width="16" height="16" fill="#000"/>
<rect x="421.0" y="855.2" width="16" height="16" fill="#000"/>
<rect x="451.2" y="858.7" width="16" height="16" fill="#000"/>
<rect x="375.6" y="864.6" width="16" height="16" fill="#000"/>
<rect x="406.0" y="864.6" width="16" height="16" fill="#000"/>
<rect x="466.5" y="870.5" width="16" height="16" fill="#000"/>
<rect x="360.8" y="873.5" width="16" height="16" fill="#000"/>
<rect x="390.9" y="875.5" width="16" height="16" fill="#000"/>
<rect x="421.0" y="877.0" width="16" height="16" fill="#000"/>
<rect x="436.4" y="873.5" width="16" height="16" fill="#000"/>
<rect x="451.2" y="879.4" width="16" height="16" fill="#000"/>
<rect x="375.6" y="881.9" width="16" height="16" fill="#000"/>
<rect x="406.0" y="880.4" width="16" height="16" fill="#000"/>
<rect x="436.4" y="889.3" width="16" height="16" fill="#000"/>
<rect x="1121.9" y="664.0" width="16" height="16" fill="#000"/>
<rect x="1142.8" y="659.4" width="16" height="16" fill="#000"/>
<rect x="1142.8" y="675.8" width="16" height="16" fill="#000"/>
<rect x="1164.3" y="656.8" width="16" height="16" fill="#000"/>
<rect x="1132.6" y="705.0" width="16" height="16" fill="#000"/>
<rect x="1079.9" y="742.8" width="16" height="16" fill="#000"/>
<rect x="1100.9" y="733.1" width="16" height="16" fill="#000"/>
<rect x="1121.9" y="724.9" width="16" height="16" fill="#000"/>
<rect x="1121.9" y="743.3" width="16" height="16" fill="#000"/>
<rect x="1142.8" y="739.2" width="16" height="16" fill="#000"/>
<rect x="1142.8" y="753.5" width="16" height="16" fill="#000"/>
<rect x="1164.3" y="728.5" width="16" height="16" fill="#000"/>
<rect x="1185.3" y="741.8" width="16" height="16" fill="#000"/>
<rect x="1100.9" y="760.7" width="16" height="16" fill="#000"/>
<rect x="1121.9" y="767.9" width="16" height="16" fill="#000"/>
<rect x="1164.3" y="770.4" width="16" height="16" fill="#000"/>
<rect x="1185.3" y="762.8" width="16" height="16" fill="#000"/>
<rect x="1079.9" y="781.2" width="16" height="16" fill="#000"/>
<rect x="1100.9" y="781.2" width="16" height="16" fill="#000"/>
<rect x="1121.9" y="783.3" width="16" height="16" fill="#000"/>
<rect x="1142.8" y="788.4" width="16" height="16" fill="#000"/>
<rect x="1164.3" y="788.9" width="16" height="16" fill="#000"/>
<rect x="1185.3" y="780.2" width="16" height="16" fill="#000"/>
<rect x="1079.9" y="807.3" width="16" height="16" fill="#000"/>
<rect x="1100.9" y="802.2" width="16" height="16" fill="#000"/>
<rect x="1142.8" y="806.8" width="16" height="16" fill="#000"/>
<rect x="1164.3" y="808.8" width="16" height="16" fill="#000"/>
<rect x="1185.3" y="806.3" width="16" height="16" fill="#000"/>
<rect x="1100.9" y="827.8" width="16" height="16" fill="#000"/>
<rect x="1121.9" y="817.5" width="16" height="16" fill="#000"/>
<rect x="1121.9" y="835.4" width="16" height="16" fill="#000"/>
<rect x="1142.8" y="826.7" width="16" height="16" fill="#000"/>
<rect x="1164.3" y="829.8" width="16" height="16" fill="#000"/>
<rect x="1121.9" y="856.4" width="16" height="16" fill="#000"/>
<rect x="1121.9" y="874.3" width="16" height="16" fill="#000"/>
<rect x="1142.8" y="861.0" width="16" height="16" fill="#000"/>
<rect x="1142.8" y="880.5" width="16" height="16" fill="#000"/>
<rect x="1164.3" y="869.7" width="16" height="16" fill="#000"/>
<rect x="1132.6" y="904.0" width="16" height="16" fill="#000"/>
<rect x="401.8" y="1198.9" width="16" height="16" fill="#000"/>
<rect x="413.0" y="1210.3" width="16" height="16" fill="#000"/>
<rect x="413.0" y="1269.4" width="16" height="16" fill="#000"/>
<rect x="413.0" y="1350.0" width="16" height="16" fill="#000"/>
<rect x="413.0" y="1368.0" width="16" height="16" fill="#000"/>
<rect x="402.3" y="1360.0" width="16" height="16" fill="#000"/>
<rect x="424.0" y="1359.0" width="16" height="16" fill="#000"/>
<rect x="381.0" y="1375.0" width="16" height="16" fill="#000"/>
<rect x="413.0" y="1388.0" width="16" height="16" fill="#000"/>
<rect x="454.9" y="1379.0" width="16" height="16" fill="#000"/>
<rect x="454.9" y="1392.0" width="16" height="16" fill="#000"/>
<rect x="454.9" y="1402.0" width="16" height="16" fill="#000"/>
<rect x="465.4" y="1401.0" width="16" height="16" fill="#000"/>
<rect x="359.5" y="1399.9" width="16" height="16" fill="#000"/>
<rect x="380.8" y="1398.9" width="16" height="16" fill="#000"/>
<rect x="398.4" y="1401.0" width="16" height="16" fill="#000"/>
<rect x="428.9" y="1393.3" width="16" height="16" fill="#000"/>
<rect x="433.0" y="1402.0" width="16" height="16" fill="#000"/>
<rect x="420.0" y="1403.0" width="16" height="16" fill="#000"/>
<rect x="387.7" y="1410.0" width="16" height="16" fill="#000"/>
<rect x="370.5" y="1417.4" width="16" height="16" fill="#000"/>
<rect x="359.5" y="1438.1" width="16" height="16" fill="#000"/>
<rect x="370.5" y="1435.9" width="16" height="16" fill="#000"/>
<rect x="370.5" y="1452.8" width="16" height="16" fill="#000"/>
<rect x="391.8" y="1450.0" width="16" height="16" fill="#000"/>
<rect x="392.0" y="1430.0" width="16" height="16" fill="#000"/>
<rect x="402.0" y="1432.0" width="16" height="16" fill="#000"/>
<rect x="412.8" y="1457.5" width="16" height="16" fill="#000"/>
<rect x="433.6" y="1454.1" width="16" height="16" fill="#000"/>
<rect x="454.9" y="1457.2" width="16" height="16" fill="#000"/>
<rect x="444.1" y="1438.4" width="16" height="16" fill="#000"/>
<rect x="465.6" y="1426.5" width="16" height="16" fill="#000"/>
<rect x="465.6" y="1442.2" width="16" height="16" fill="#000"/>
<rect x="423.6" y="1424.0" width="16" height="16" fill="#000"/>
<rect x="434.0" y="1425.0" width="16" height="16" fill="#000"/>
<rect x="432.0" y="1439.0" width="16" height="16" fill="#000"/>
<rect x="417.0" y="1440.0" width="16" height="16" fill="#000"/>
<rect x="404.0" y="1414.0" width="16" height="16" fill="#000"/>
<rect x="432.0" y="1412.0" width="16" height="16" fill="#000"/>
<rect x="454.0" y="1414.0" width="16" height="16" fill="#000"/>
<rect x="406.0" y="1396.0" width="16" height="16" fill="#000"/>
<rect x="444.0" y="1402.0" width="16" height="16" fill="#000"/>
<rect x="1114.2" y="1217.9" width="16" height="16" fill="#000"/>
<rect x="1126.0" y="1218.9" width="16" height="16" fill="#000"/>
<rect x="1149.5" y="1215.8" width="16" height="16" fill="#000"/>
<rect x="1126.0" y="1236.8" width="16" height="16" fill="#000"/>
<rect x="1149.5" y="1240.9" width="16" height="16" fill="#000"/>
<rect x="1137.7" y="1241.4" width="16" height="16" fill="#000"/>
<rect x="1114.2" y="1248.6" width="16" height="16" fill="#000"/>
<rect x="1131.6" y="1264.9" width="16" height="16" fill="#000"/>
<rect x="1102.4" y="1282.3" width="16" height="16" fill="#000"/>
<rect x="1102.4" y="1298.2" width="16" height="16" fill="#000"/>
<rect x="1114.2" y="1292.0" width="16" height="16" fill="#000"/>
<rect x="1126.0" y="1292.0" width="16" height="16" fill="#000"/>
<rect x="1137.7" y="1287.0" width="16" height="16" fill="#000"/>
<rect x="1149.5" y="1294.6" width="16" height="16" fill="#000"/>
<rect x="1161.3" y="1293.1" width="16" height="16" fill="#000"/>
<rect x="1114.2" y="1307.4" width="16" height="16" fill="#000"/>
<rect x="1078.9" y="1320.7" width="16" height="16" fill="#000"/>
<rect x="1126.0" y="1321.7" width="16" height="16" fill="#000"/>
<rect x="1149.5" y="1323.8" width="16" height="16" fill="#000"/>
<rect x="1161.3" y="1321.7" width="16" height="16" fill="#000"/>
<rect x="1173.0" y="1323.8" width="16" height="16" fill="#000"/>
<rect x="1090.7" y="1324.8" width="16" height="16" fill="#000"/>
<rect x="1102.4" y="1324.8" width="16" height="16" fill="#000"/>
<rect x="1090.7" y="1332.7" width="16" height="16" fill="#000"/>
<rect x="1102.4" y="1345.0" width="16" height="16" fill="#000"/>
<rect x="1114.2" y="1347.6" width="16" height="16" fill="#000"/>
<rect x="1126.0" y="1336.8" width="16" height="16" fill="#000"/>
<rect x="1137.7" y="1333.3" width="16" height="16" fill="#000"/>
<rect x="1126.0" y="1361.9" width="16" height="16" fill="#000"/>
<rect x="1149.5" y="1347.6" width="16" height="16" fill="#000"/>
<rect x="1161.3" y="1347.6" width="16" height="16" fill="#000"/>
<rect x="1149.5" y="1362.9" width="16" height="16" fill="#000"/>
<rect x="1184.8" y="1333.3" width="16" height="16" fill="#000"/>
<rect x="1102.4" y="1371.1" width="16" height="16" fill="#000"/>
<rect x="1090.7" y="1377.8" width="16" height="16" fill="#000"/>
<rect x="1114.2" y="1384.4" width="16" height="16" fill="#000"/>
<rect x="1126.0" y="1377.8" width="16" height="16" fill="#000"/>
<rect x="1137.7" y="1377.8" width="16" height="16" fill="#000"/>
<rect x="1149.5" y="1377.8" width="16" height="16" fill="#000"/>
<rect x="1161.3" y="1377.8" width="16" height="16" fill="#000"/>
<rect x="1173.0" y="1377.8" width="16" height="16" fill="#000"/>
<rect x="1131.6" y="1404.9" width="16" height="16" fill="#000"/>
<rect x="1131.6" y="1420.2" width="16" height="16" fill="#000"/>
<rect x="1104.0" y="1332.0" width="16" height="16" fill="#000"/>
<polygon points="548.3,877.5 540.3,893.5 556.3,893.5" fill="#000" stroke="#000" stroke-width="1" stroke-linejoin="round"/>
<polygon points="569.2,869.8 561.2,885.8 577.2,885.8" fill="#000" stroke="#000" stroke-width="1" stroke-linejoin="round"/>
<polygon points="590.0,873.8 582.0,889.8 598.0,889.8" fill="#000" stroke="#000" stroke-width="1" stroke-linejoin="round"/>
<polygon points="611.3,882.1 603.3,898.1 619.3,898.1" fill="#000" stroke="#000" stroke-width="1" stroke-linejoin="round"/>
<polygon points="632.3,881.1 624.3,897.1 640.3,897.1" fill="#000" stroke="#000" stroke-width="1" stroke-linejoin="round"/>
<polygon points="653.3,875.2 645.3,891.2 661.3,891.2" fill="#000" stroke="#000" stroke-width="1" stroke-linejoin="round"/>
<polygon points="569.2,889.0 561.2,905.0 577.2,905.0" fill="#000" stroke="#000" stroke-width="1" stroke-linejoin="round"/>
<polygon points="590.0,892.5 582.0,908.5 598.0,908.5" fill="#000" stroke="#000" stroke-width="1" stroke-linejoin="round"/>
<polygon points="569.2,906.1 561.2,922.1 577.2,922.1" fill="#000" stroke="#000" stroke-width="1" stroke-linejoin="round"/>
<polygon points="611.3,903.7 603.3,919.7 619.3,919.7" fill="#000" stroke="#000" stroke-width="1" stroke-linejoin="round"/>
<polygon points="632.3,898.7 624.3,914.7 640.3,914.7" fill="#000" stroke="#000" stroke-width="1" stroke-linejoin="round"/>
<polygon points="1320.6,778.0 1312.6,794.0 1328.6,794.0" fill="#000" stroke="#000" stroke-width="1" stroke-linejoin="round"/>
<polygon points="1291.4,790.2 1283.4,806.2 1299.4,806.2" fill="#000" stroke="#000" stroke-width="1" stroke-linejoin="round"/>
<polygon points="1349.7,792.8 1341.7,808.8 1357.7,808.8" fill="#000" stroke="#000" stroke-width="1" stroke-linejoin="round"/>
<polygon points="1320.8,801.8 1312.8,817.8 1328.8,817.8" fill="#000" stroke="#000" stroke-width="1" stroke-linejoin="round"/>
<polygon points="1306.0,830.0 1298.0,846.0 1314.0,846.0" fill="#000" stroke="#000" stroke-width="1" stroke-linejoin="round"/>
<polygon points="1335.1,836.0 1327.1,852.0 1343.1,852.0" fill="#000" stroke="#000" stroke-width="1" stroke-linejoin="round"/>
<polygon points="1291.4,862.8 1283.4,878.8 1299.4,878.8" fill="#000" stroke="#000" stroke-width="1" stroke-linejoin="round"/>
<polygon points="1349.7,857.0 1341.7,873.0 1357.7,873.0" fill="#000" stroke="#000" stroke-width="1" stroke-linejoin="round"/>
<polygon points="1349.7,875.3 1341.7,891.3 1357.7,891.3" fill="#000" stroke="#000" stroke-width="1" stroke-linejoin="round"/>
<polygon points="1320.8,881.8 1312.8,897.8 1328.8,897.8" fill="#000" stroke="#000" stroke-width="1" stroke-linejoin="round"/>
<polygon points="1320.8,899.0 1312.8,915.0 1328.8,915.0" fill="#000" stroke="#000" stroke-width="1" stroke-linejoin="round"/>
<polygon points="547.8,1270.0 539.8,1286.0 555.8,1286.0" fill="#000" stroke="#000" stroke-width="1" stroke-linejoin="round"/>
<polygon points="565.1,1268.8 557.1,1284.8 573.1,1284.8" fill="#000" stroke="#000" stroke-width="1" stroke-linejoin="round"/>
<polygon points="582.9,1274.7 574.9,1290.7 590.9,1290.7" fill="#000" stroke="#000" stroke-width="1" stroke-linejoin="round"/>
<polygon points="600.7,1272.5 592.7,1288.5 608.7,1288.5" fill="#000" stroke="#000" stroke-width="1" stroke-linejoin="round"/>
<polygon points="617.9,1268.3 609.9,1284.3 625.9,1284.3" fill="#000" stroke="#000" stroke-width="1" stroke-linejoin="round"/>
<polygon points="635.5,1270.5 627.5,1286.5 643.5,1286.5" fill="#000" stroke="#000" stroke-width="1" stroke-linejoin="round"/>
<polygon points="653.3,1270.0 645.3,1286.0 661.3,1286.0" fill="#000" stroke="#000" stroke-width="1" stroke-linejoin="round"/>
<polygon points="617.9,1297.5 609.9,1313.5 625.9,1313.5" fill="#000" stroke="#000" stroke-width="1" stroke-linejoin="round"/>
<polygon points="565.1,1313.0 557.1,1329.0 573.1,1329.0" fill="#000" stroke="#000" stroke-width="1" stroke-linejoin="round"/>
<polygon points="582.9,1311.5 574.9,1327.5 590.9,1327.5" fill="#000" stroke="#000" stroke-width="1" stroke-linejoin="round"/>
<polygon points="600.7,1325.1 592.7,1341.1 608.7,1341.1" fill="#000" stroke="#000" stroke-width="1" stroke-linejoin="round"/>
<polygon points="617.9,1321.9 609.9,1337.9 625.9,1337.9" fill="#000" stroke="#000" stroke-width="1" stroke-linejoin="round"/>
<polygon points="582.9,1334.0 574.9,1350.0 590.9,1350.0" fill="#000" stroke="#000" stroke-width="1" stroke-linejoin="round"/>
<polygon points="600.7,1342.9 592.7,1358.9 608.7,1358.9" fill="#000" stroke="#000" stroke-width="1" stroke-linejoin="round"/>
<polygon points="600.7,1357.5 592.7,1373.5 608.7,1373.5" fill="#000" stroke="#000" stroke-width="1" stroke-linejoin="round"/>
<polygon points="582.9,1371.5 574.9,1387.5 590.9,1387.5" fill="#000" stroke="#000" stroke-width="1" stroke-linejoin="round"/>
<polygon points="617.9,1379.2 609.9,1395.2 625.9,1395.2" fill="#000" stroke="#000" stroke-width="1" stroke-linejoin="round"/>
<polygon points="600.7,1386.6 592.7,1402.6 608.7,1402.6" fill="#000" stroke="#000" stroke-width="1" stroke-linejoin="round"/>
<polygon points="573.8,1408.3 565.8,1424.3 581.8,1424.3" fill="#000" stroke="#000" stroke-width="1" stroke-linejoin="round"/>
<polygon points="591.8,1412.8 583.8,1428.8 599.8,1428.8" fill="#000" stroke="#000" stroke-width="1" stroke-linejoin="round"/>
<polygon points="609.5,1412.8 601.5,1428.8 617.5,1428.8" fill="#000" stroke="#000" stroke-width="1" stroke-linejoin="round"/>
<polygon points="626.8,1417.0 618.8,1433.0 634.8,1433.0" fill="#000" stroke="#000" stroke-width="1" stroke-linejoin="round"/>
<polygon points="600.7,1463.7 592.7,1479.7 608.7,1479.7" fill="#000" stroke="#000" stroke-width="1" stroke-linejoin="round"/>
<polygon points="1329.3,1295.0 1321.3,1311.0 1337.3,1311.0" fill="#000" stroke="#000" stroke-width="1" stroke-linejoin="round"/>
<polygon points="1308.1,1308.0 1300.1,1324.0 1316.1,1324.0" fill="#000" stroke="#000" stroke-width="1" stroke-linejoin="round"/>
<polygon points="1298.2,1355.4 1290.2,1371.4 1306.2,1371.4" fill="#000" stroke="#000" stroke-width="1" stroke-linejoin="round"/>
<polygon points="1318.7,1347.2 1310.7,1363.2 1326.7,1363.2" fill="#000" stroke="#000" stroke-width="1" stroke-linejoin="round"/>
<polygon points="1339.9,1350.0 1331.9,1366.0 1347.9,1366.0" fill="#000" stroke="#000" stroke-width="1" stroke-linejoin="round"/>
<polygon points="1266.3,1390.8 1258.3,1406.8 1274.3,1406.8" fill="#000" stroke="#000" stroke-width="1" stroke-linejoin="round"/>
<polygon points="1287.1,1392.8 1279.1,1408.8 1295.1,1408.8" fill="#000" stroke="#000" stroke-width="1" stroke-linejoin="round"/>
<polygon points="1308.1,1389.5 1300.1,1405.5 1316.1,1405.5" fill="#000" stroke="#000" stroke-width="1" stroke-linejoin="round"/>
<polygon points="1329.3,1384.8 1321.3,1400.8 1337.3,1400.8" fill="#000" stroke="#000" stroke-width="1" stroke-linejoin="round"/>
<polygon points="1350.3,1394.5 1342.3,1410.5 1358.3,1410.5" fill="#000" stroke="#000" stroke-width="1" stroke-linejoin="round"/>
<polygon points="1371.3,1379.4 1363.3,1395.4 1379.3,1395.4" fill="#000" stroke="#000" stroke-width="1" stroke-linejoin="round"/>
<polygon points="1371.3,1394.0 1363.3,1410.0 1379.3,1410.0" fill="#000" stroke="#000" stroke-width="1" stroke-linejoin="round"/>
<polygon points="1308.1,1405.6 1300.1,1421.6 1316.1,1421.6" fill="#000" stroke="#000" stroke-width="1" stroke-linejoin="round"/>
<polygon points="1329.3,1403.9 1321.3,1419.9 1337.3,1419.9" fill="#000" stroke="#000" stroke-width="1" stroke-linejoin="round"/>
<polygon points="1350.3,1409.7 1342.3,1425.7 1358.3,1425.7" fill="#000" stroke="#000" stroke-width="1" stroke-linejoin="round"/>
<polygon points="1308.1,1422.9 1300.1,1438.9 1316.1,1438.9" fill="#000" stroke="#000" stroke-width="1" stroke-linejoin="round"/>
<polygon points="1329.3,1426.8 1321.3,1442.8 1337.3,1442.8" fill="#000" stroke="#000" stroke-width="1" stroke-linejoin="round"/>
<polygon points="1350.3,1424.9 1342.3,1440.9 1358.3,1440.9" fill="#000" stroke="#000" stroke-width="1" stroke-linejoin="round"/>
<polygon points="1287.1,1434.3 1279.1,1450.3 1295.1,1450.3" fill="#000" stroke="#000" stroke-width="1" stroke-linejoin="round"/>
<polygon points="1266.3,1443.9 1258.3,1459.9 1274.3,1459.9" fill="#000" stroke="#000" stroke-width="1" stroke-linejoin="round"/>
<polygon points="1329.3,1447.6 1321.3,1463.6 1337.3,1463.6" fill="#000" stroke="#000" stroke-width="1" stroke-linejoin="round"/>
<polygon points="1350.3,1443.9 1342.3,1459.9 1358.3,1459.9" fill="#000" stroke="#000" stroke-width="1" stroke-linejoin="round"/>
<polygon points="1371.3,1443.6 1363.3,1459.6 1379.3,1459.6" fill="#000" stroke="#000" stroke-width="1" stroke-linejoin="round"/>
<polygon points="1287.1,1456.5 1279.1,1472.5 1295.1,1472.5" fill="#000" stroke="#000" stroke-width="1" stroke-linejoin="round"/>
<polygon points="1308.1,1461.9 1300.1,1477.9 1316.1,1477.9" fill="#000" stroke="#000" stroke-width="1" stroke-linejoin="round"/>
<polygon points="1350.3,1467.6 1342.3,1483.6 1358.3,1483.6" fill="#000" stroke="#000" stroke-width="1" stroke-linejoin="round"/>
<polygon points="1287.1,1474.3 1279.1,1490.3 1295.1,1490.3" fill="#000" stroke="#000" stroke-width="1" stroke-linejoin="round"/>
<polygon points="1329.3,1474.3 1321.3,1490.3 1337.3,1490.3" fill="#000" stroke="#000" stroke-width="1" stroke-linejoin="round"/>
<rect x="387.6" y="1431" width="3.7" height="13.0" fill="#fff"/>
<rect x="397" y="1447.7" width="5.0" height="2.5" fill="#fff"/>
<rect x="417.7" y="1453" width="5.6" height="6.0" fill="#fff"/>
<rect x="395.7" y="1426.4" width="22.0" height="4.4" fill="#fff"/>
<rect x="417.7" y="1420.7" width="5.6" height="15.7" fill="#fff"/>
<rect x="449.5" y="1380" width="5.5" height="23.0" fill="#fff"/>
<rect x="415" y="1420.7" width="18.8" height="6.3" fill="#fff"/>
<rect x="450" y="1420.7" width="5.0" height="16.9" fill="#fff"/>
<rect x="460" y="1420.7" width="5.8" height="36.3" fill="#fff"/>
<rect x="428.8" y="1442.7" width="5.0" height="6.8" fill="#fff"/>
<line x1="902.6" y1="354.2" x2="1022.3" y2="354.2" stroke="#b5121b" stroke-width="4" stroke-linecap="butt"/>
<line x1="1082.0" y1="220.6" x2="1201.0" y2="220.6" stroke="#b5121b" stroke-width="4" stroke-linecap="butt"/>
<line x1="1262.7" y1="246.5" x2="1381.7" y2="246.5" stroke="#b5121b" stroke-width="4" stroke-linecap="butt"/>
<line x1="182.7" y1="866.2" x2="301.8" y2="866.2" stroke="#b5121b" stroke-width="4" stroke-linecap="butt"/>
<line x1="361.4" y1="837.6" x2="481.0" y2="837.6" stroke="#b5121b" stroke-width="4" stroke-linecap="butt"/>
<line x1="540.4" y1="889.6" x2="661.4" y2="889.6" stroke="#b5121b" stroke-width="4" stroke-linecap="butt"/>
<line x1="900.7" y1="871.7" x2="1021.0" y2="871.7" stroke="#b5121b" stroke-width="4" stroke-linecap="butt"/>
<line x1="1081.0" y1="788.8" x2="1201.0" y2="788.8" stroke="#b5121b" stroke-width="4" stroke-linecap="butt"/>
<line x1="1262.0" y1="844.2" x2="1381.0" y2="844.2" stroke="#b5121b" stroke-width="4" stroke-linecap="butt"/>
<line x1="181.1" y1="1335.0" x2="301.3" y2="1335.0" stroke="#b5121b" stroke-width="4" stroke-linecap="butt"/>
<line x1="360.9" y1="1419.4" x2="480.4" y2="1419.4" stroke="#b5121b" stroke-width="4" stroke-linecap="butt"/>
<line x1="540.4" y1="1332.6" x2="660.9" y2="1332.6" stroke="#b5121b" stroke-width="4" stroke-linecap="butt"/>
<line x1="900.7" y1="1415.0" x2="1020.4" y2="1415.0" stroke="#b5121b" stroke-width="4" stroke-linecap="butt"/>
<line x1="1079.7" y1="1336.8" x2="1198.9" y2="1336.8" stroke="#b5121b" stroke-width="4" stroke-linecap="butt"/>
<line x1="1259.4" y1="1415.1" x2="1379.0" y2="1415.1" stroke="#b5121b" stroke-width="4" stroke-linecap="butt"/></svg></body></html>
